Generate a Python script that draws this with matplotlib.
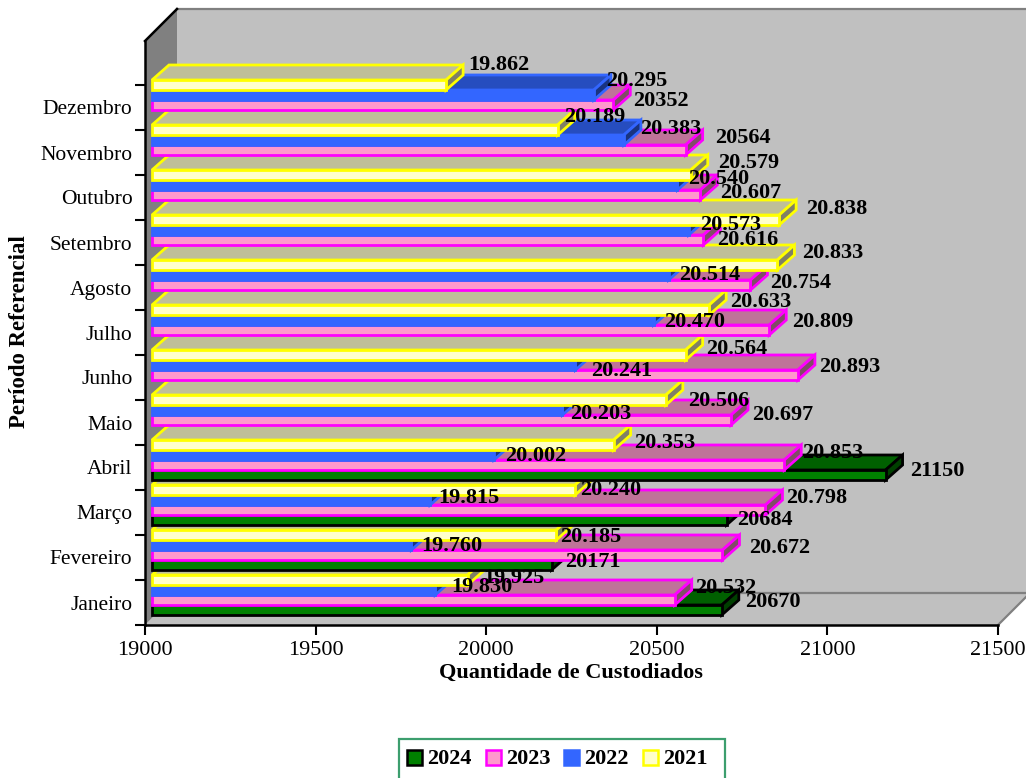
import matplotlib
matplotlib.use('Agg')
import matplotlib.pyplot as plt
from matplotlib.patches import Polygon, Rectangle

months = ['Janeiro', 'Fevereiro', 'Março', 'Abril', 'Maio', 'Junho', 'Julho',
          'Agosto', 'Setembro', 'Outubro', 'Novembro', 'Dezembro']

# printed labels, the bar lengths are parsed from these
labels_2024 = ['20670', '20171', '20684', '21150']
labels_2023 = ['20.532', '20.672', '20.798', '20.853', '20.697', '20.893',
               '20.809', '20.754', '20.616', '20.607', '20564', '20352']
labels_2022 = ['19.830', '19.760', '19.815', '20.002', '20.203', '20.241',
               '20.470', '20.514', '20.573', '20.540', '20.383', '20.295']
labels_2021 = ['19.925', '20.185', '20.240', '20.353', '20.506', '20.564',
               '20.633', '20.833', '20.838', '20.579', '20.189', '19.862']

# label offsets from the end of each bar, in pixels
offsets_2024 = [(23, 8), (14, 3), (11, 0), (25, 4)]
offsets_2023 = [(20, 12), (27, 7), (21, 12), (18, 12), (21, 5), (21, 8),
                (23, 8), (20, 2), (14, 0), (20, 2), (29, 12), (20, 4)]
offsets_2022 = [(16, 3), (10, -1), (8, 2), (11, -1), (8, -4), (16, -6),
                (11, -2), (11, 0), (11, 5), (11, 6), (16, 11), (12, 14)]
offsets_2021 = [(16, 2), (4, -2), (5, 0), (20, 2), (22, -1), (20, 6),
                (21, 8), (25, 12), (27, 11), (27, 12), (6, 13), (22, 20)]

# name, labels, offsets, edge, front, top, side
series = [
    ('2024', labels_2024, offsets_2024, '#000000', '#008000', '#006000', '#004000'),
    ('2023', labels_2023, offsets_2023, '#ff00ff', '#ff99cc', '#bf7399', '#804d66'),
    ('2022', labels_2022, offsets_2022, '#3366ff', '#3366ff', '#264dbf', '#193380'),
    ('2021', labels_2021, offsets_2021, '#ffff00', '#ffffcc', '#bfbf99', '#808066'),
]

W, H = 1026, 778
AX_L, AX_R, AX_B, AX_T = 145, 998, 625, 41
ROW_PX = 45.0
plt.rcParams['font.family'] = ['Liberation Serif', 'DejaVu Serif']

fig = plt.figure(figsize=(W / 100, H / 100), dpi=100)
ax = fig.add_axes([AX_L / W, 1 - AX_B / H, (AX_R - AX_L) / W, (AX_B - AX_T) / H])
ax.set_xlim(19000, 21500)
ax.set_ylim(0, (AX_B - AX_T) / ROW_PX)
ax.patch.set_visible(False)

# pixel lengths expressed in data units
px_x = 2500.0 / (AX_R - AX_L)
px_y = 1.0 / ROW_PX

WALL_DX, WALL_DY = 32 * px_x, 32 * px_y
x0, y0 = 19000, 0
x_far = 19000 + (W + 40 - AX_L) * px_x
y_top = (AX_B - 9) * px_y

# back wall, floor and left wall
ax.add_patch(Polygon([(x0 + WALL_DX, y0 + WALL_DY), (x_far, y0 + WALL_DY),
                      (x_far, y_top), (x0 + WALL_DX, y_top)],
                     fc='#c0c0c0', ec='none', clip_on=False, zorder=1))
ax.add_patch(Polygon([(x0, y0), (x0 + WALL_DX, y0 + WALL_DY),
                      (21500 + WALL_DX, y0 + WALL_DY), (21500, y0)],
                     fc='#c0c0c0', ec='none', clip_on=False, zorder=1))
ax.add_patch(Polygon([(x0, y0), (x0, ax.get_ylim()[1]), (x0 + WALL_DX, y_top),
                      (x0 + WALL_DX, y0 + WALL_DY)],
                     fc='#808080', ec='none', clip_on=False, zorder=1))
wall_line = dict(color='#808080', lw=1.6, clip_on=False, zorder=1.5)
ax.plot([x0 + WALL_DX, x_far], [y_top, y_top], **wall_line)
ax.plot([x0 + WALL_DX, x_far], [WALL_DY, WALL_DY], **wall_line)
ax.plot([21500, 21500 + WALL_DX], [0, WALL_DY], **wall_line)
ax.plot([x0, x0 + WALL_DX], [ax.get_ylim()[1], y_top], color='black', lw=1.8,
        clip_on=False, zorder=2)

# bars, painted from the bottom row up so each one hides the top of the one below
BASE_X = 7 * px_x
BASE_Y = 10 * px_y
BAR_H = 10 * px_y
DEPTH_X, DEPTH_Y = 17 * px_x, 15 * px_y

z = 3.0
pending_labels = []
for row in range(len(months)):
    for s, (name, labels, offsets, edge, front, top, side) in enumerate(series):
        if row >= len(labels):
            continue
        value = float(labels[row].replace('.', ''))
        left = 19000 + BASE_X
        right = value + BASE_X
        low = row + BASE_Y + s * BAR_H
        high = low + BAR_H
        style = dict(ec=edge, lw=2.0, joinstyle='miter', clip_on=False, zorder=z)
        ax.add_patch(Polygon([(left, high), (left + DEPTH_X, high + DEPTH_Y),
                              (right + DEPTH_X, high + DEPTH_Y), (right, high)],
                             fc=top, **style))
        ax.add_patch(Polygon([(right, low), (right + DEPTH_X, low + DEPTH_Y),
                              (right + DEPTH_X, high + DEPTH_Y), (right, high)],
                             fc=side, **style))
        ax.add_patch(Rectangle((left, low), right - left, BAR_H, fc=front, **style))
        z += 0.01
        pending_labels.append((labels[row], right, (low + high) / 2, offsets[row]))

for text, x, y, off in pending_labels:
    ax.annotate(text, (x, y), xytext=off, textcoords='offset pixels', ha='left',
                va='center', fontsize=16, fontweight='bold', color='black',
                annotation_clip=False, zorder=8)

# axes
for side in ('top', 'right'):
    ax.spines[side].set_visible(False)
for side in ('left', 'bottom'):
    ax.spines[side].set_linewidth(1.8)
    ax.spines[side].set_zorder(2.5)
ax.set_xticks([19000, 19500, 20000, 20500, 21000, 21500])
ax.set_yticks(range(13))
ax.set_yticklabels([])
ax.tick_params(axis='both', which='major', length=7.2, width=1.5, labelsize=16)
ax.tick_params(axis='x', pad=4)
ax.set_yticks([r + 0.5 for r in range(12)], minor=True)
ax.set_yticklabels(months, minor=True, fontsize=15.5)
ax.tick_params(axis='y', which='minor', length=0, pad=9)

fig.text(571 / W, 1 - 673 / H, 'Quantidade de Custodiados', ha='center', va='center',
         fontsize=16, fontweight='bold')
fig.text(20 / W, 1 - 332 / H, 'Período Referencial', ha='center', va='center',
         rotation=90, fontsize=16.5, fontweight='bold')

# legend box runs off the lower edge of the figure
fig.add_artist(Rectangle((399 / W, -10 / H), 326 / W, (H - 739 + 10) / H, fc='white',
                         ec='#3c9e6e', lw=1.6, transform=fig.transFigure))
key_x = [407, 486, 564, 643]
for kx, (name, labels, offsets, edge, front, top, side) in zip(key_x, series):
    fig.add_artist(Rectangle((kx / W, 1 - 765 / H), 15 / W, 15 / H, fc=front, ec=edge,
                             lw=1.8, transform=fig.transFigure))
    fig.text((kx + 20) / W, 1 - 758.5 / H, name, ha='left', va='center', fontsize=16,
             fontweight='bold')

fig.savefig('out.png', dpi=100)
